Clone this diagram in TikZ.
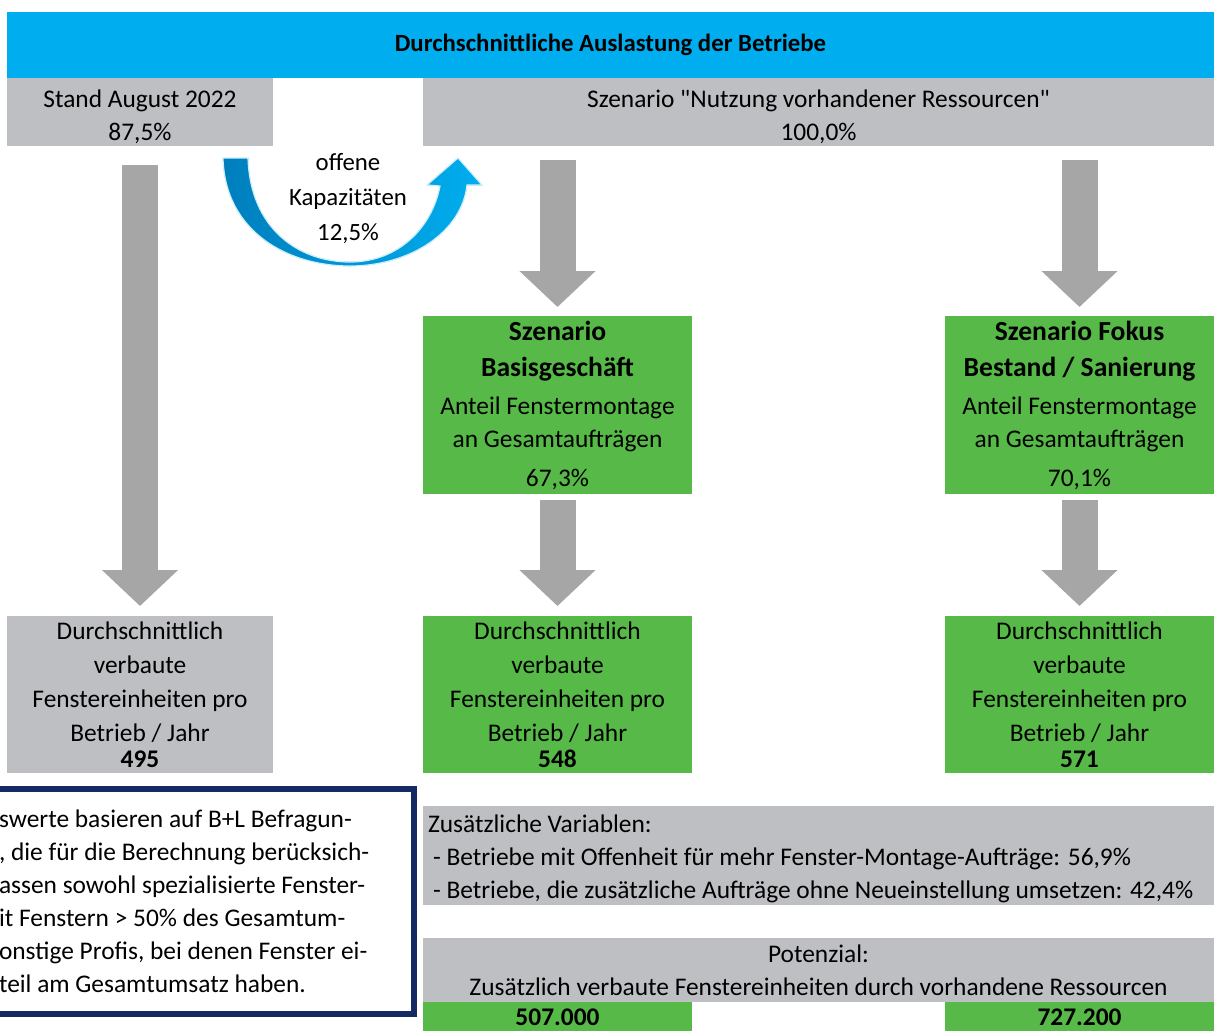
\documentclass[tikz,border=0pt]{standalone}
\usepackage{fontspec}
\setmainfont{Carlito}
\usepackage{tikz}
\usetikzlibrary{arrows.meta}
\definecolor{titleblue}{RGB}{0,174,239}
\definecolor{darkblue}{RGB}{0,126,189}
\definecolor{boxgray}{RGB}{190,191,195}
\definecolor{arrowgray}{RGB}{166,166,166}
\definecolor{boxgreen}{RGB}{87,185,71}
\definecolor{notenavy}{RGB}{20,42,98}
\newcommand{\txt}{\fontsize{12.7}{16.5}\selectfont}
\newcommand{\bigtxt}{\fontsize{13.8}{16.5}\selectfont\bfseries}
\tikzset{
  cell/.style={inner sep=0pt,outer sep=0pt,align=center,font=\txt},
  graycell/.style={cell,fill=boxgray},
  greencell/.style={cell,fill=boxgreen},
  bigarrow/.style={draw=arrowgray,line width=18pt,
    -{Triangle[width=37pt,length=18pt]}},
}
\begin{document}
\begin{tikzpicture}[x=0.5pt,y=-0.5pt]
\useasboundingbox (0,0) rectangle (1218,1030);
\clip (0,0) rectangle (1218,1030);
%
\node[cell,fill=titleblue,minimum width=603.5pt,minimum height=33pt,font=\fontsize{12.4}{13}\selectfont\bfseries]
  (title) at (610.5,45) {Durchschnittliche Auslastung der Betriebe};
\node[graycell,minimum width=133pt,minimum height=34pt] (stand) at (140,112)
  {\\[-3pt]Stand August 2022\\87,5\%};
\node[graycell,minimum width=395.5pt,minimum height=34pt] (scen) at (818.5,112)
  {\\[-3pt]Szenario \textquotedbl Nutzung vorhandener Ressourcen\textquotedbl\\100,0\%};
%
\node[greencell,minimum width=134.5pt,minimum height=89pt] (basis) at (557.5,405)
  {{\bigtxt Szenario}\\[1.5pt]{\bigtxt Basisgeschäft}\\[2.5pt]Anteil Fenstermontage\\an Gesamtaufträgen\\[3pt]67,3\%};
\node[greencell,minimum width=134.5pt,minimum height=89pt] (fokus) at (1079.5,405)
  {{\bigtxt Szenario Fokus}\\[1.5pt]{\bigtxt Bestand / Sanierung}\\[2.5pt]Anteil Fenstermontage\\an Gesamtaufträgen\\[3pt]70,1\%};
%
\node[graycell,minimum width=133pt,minimum height=78.5pt] (standcnt) at (140,694.5)
  {Durchschnittlich\\[0.5pt]verbaute\\[0.5pt]Fenstereinheiten pro\\[0.5pt]Betrieb / Jahr\\[-3.5pt]\textbf{495}};
\node[greencell,minimum width=134.5pt,minimum height=78.5pt] (basiscnt) at (557.5,694.5)
  {Durchschnittlich\\[0.5pt]verbaute\\[0.5pt]Fenstereinheiten pro\\[0.5pt]Betrieb / Jahr\\[-3.5pt]\textbf{548}};
\node[greencell,minimum width=134.5pt,minimum height=78.5pt] (fokuscnt) at (1079.5,694.5)
  {Durchschnittlich\\[0.5pt]verbaute\\[0.5pt]Fenstereinheiten pro\\[0.5pt]Betrieb / Jahr\\[-3.5pt]\textbf{571}};
%
\draw[bigarrow,shorten <=9.5pt,shorten >=5pt] (stand.south) -- (standcnt.north);
\draw[bigarrow,shorten <=7pt,shorten >=4.5pt] (scen.south -| basis.north) -- (basis.north);
\draw[bigarrow,shorten <=7pt,shorten >=4.5pt] (scen.south -| fokus.north) -- (fokus.north);
\draw[bigarrow,shorten <=3pt,shorten >=5pt] (basis.south) -- (basiscnt.north);
\draw[bigarrow,shorten <=3pt,shorten >=5pt] (fokus.south) -- (fokuscnt.north);
%
\fill[left color=darkblue,right color=titleblue,draw=white!80!titleblue,line width=0.6pt]
  (223,158) .. controls (225,232) and (288,266) .. (350,266)
  .. controls (410,266) and (462,232) .. (467,185)
  -- (482,185) -- (458,158) -- (427,185) -- (440,186)
  .. controls (432,228) and (398,262) .. (350,262)
  .. controls (298,262) and (250,228) .. (248,158) -- cycle;
\node[cell,font=\fontsize{12.4}{17.5}\selectfont] (offen) at (348,199)
  {offene\\Kapazitäten\\12,5\%};
%
\draw[notenavy,line width=2.8pt] (-20,789) rectangle (414,1014);
\node[cell,align=left,anchor=west,font=\txt] (note) at (-1,901)
  {swerte basieren auf B+L Befragun-\\, die für die Berechnung berücksich-\\assen sowohl spezialisierte Fenster-\\it Fenstern > 50\% des Gesamtum-\\onstige Profis, bei denen Fenster ei-\\teil am Gesamtumsatz haben.};
%
\node[graycell,minimum width=395.5pt,minimum height=49.5pt] (vars) at (818.5,855.5) {};
\node[cell,align=left,anchor=west] (varstxt) at (428,859)
  {Zusätzliche Variablen:\\\hspace*{2.5pt}- Betriebe mit Offenheit für mehr Fenster-Montage-Aufträge: 56,9\%\\\hspace*{2.5pt}- Betriebe, die zusätzliche Aufträge ohne Neueinstellung umsetzen: 42,4\%};
\node[graycell,minimum width=395.5pt,minimum height=32pt] (pot) at (818.5,970)
  {Potenzial:\\Zusätzlich verbaute Fenstereinheiten durch vorhandene Ressourcen};
\node[greencell,minimum width=134.5pt,minimum height=15pt,font=\txt\bfseries] (basisval) at (557.5,1017) {507.000};
\node[greencell,minimum width=134.5pt,minimum height=15pt,font=\txt\bfseries] (fokusval) at (1079.5,1017) {727.200};
\end{tikzpicture}
\end{document}
